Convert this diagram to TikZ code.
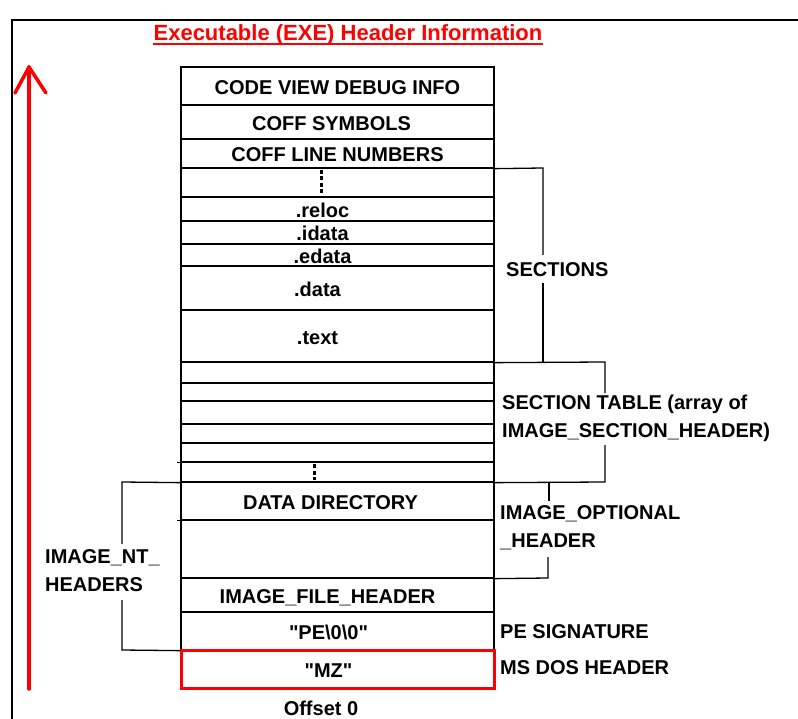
\documentclass[tikz,border=0pt]{standalone}
\usepackage{fontspec}
\setmainfont{Liberation Sans}
\newcommand\lblfont{\fontsize{20}{28}\selectfont\bfseries}
\newcommand\ttlfont{\fontsize{22}{26}\selectfont\bfseries}
\begin{document}
\begin{tikzpicture}[x=1pt,y=-1pt,
  rowbox/.style={draw, line width=1.3pt, minimum width=313pt, inner sep=0pt, font=\lblfont, text height=17pt, text depth=0pt},
  lbl/.style={font=\lblfont, inner sep=0pt},
  conn/.style={line width=1.3pt},
  dotsty/.style={line width=3pt, dash pattern=on 4pt off 2.5pt},
  frame/.style={line width=2.5pt},
  redarrow/.style={draw=red, line width=3.5pt, line cap=round, line join=round}]
\useasboundingbox (0,0) rectangle (798,719);
% frame
\draw[frame] (12,719) -- (12,20) -- (798,20);
% title
\node[font=\ttlfont, text=red, inner sep=0pt] (title) at (348,35) {Executable (EXE) Header Information};
\draw[red, line width=2pt] ([yshift=-3.5pt]title.base west) -- ([yshift=-3.5pt]title.base east);
% red arrow
\coordinate (abot) at (29,689);
\coordinate (atop) at (29,67);
\draw[redarrow] (abot) -- (atop);
\draw[redarrow] (15,93) -- (atop) -- (46,93);
% rows
\node[rowbox, minimum height=38pt] (cv) at (337.5,86) {CODE VIEW DEBUG INFO};
\node[rowbox, minimum height=34pt] (cs) at (337.5,122) {\hspace*{-12pt}COFF SYMBOLS};
\node[rowbox, minimum height=29pt] (cl) at (337.5,153.5) {COFF LINE NUMBERS};
\node[rowbox, minimum height=29pt] (dA) at (337.5,182.5) {};
\node[rowbox, minimum height=24pt] (reloc) at (337.5,209) {\hspace*{-30pt}.reloc};
\node[rowbox, minimum height=23pt] (idata) at (337.5,232.5) {\hspace*{-30pt}.idata};
\node[rowbox, minimum height=22pt] (edata) at (337.5,255) {\hspace*{-30pt}.edata};
\node[rowbox, minimum height=44pt] (data) at (337.5,288) {\hspace*{-40pt}.data};
\node[rowbox, minimum height=52pt] (text) at (337.5,336) {\hspace*{-40pt}.text};
\node[rowbox, minimum height=21pt] (s1) at (337.5,372.5) {};
\node[rowbox, minimum height=18pt] (s2) at (337.5,392) {};
\node[rowbox, minimum height=23pt] (s3) at (337.5,412.5) {};
\node[rowbox, minimum height=19pt] (s4) at (337.5,433.5) {};
\node[rowbox, minimum height=19pt] (s5) at (337.5,452.5) {};
\node[rowbox, minimum height=20pt] (dB) at (337.5,472) {};
\node[rowbox, minimum height=38pt] (dd) at (337.5,501) {\hspace*{-14pt}DATA DIRECTORY};
\node[rowbox, minimum height=58pt] (opt) at (337.5,549) {};
\node[rowbox, minimum height=34pt] (fh) at (337.5,595) {\hspace*{-20pt}IMAGE\_FILE\_HEADER};
\node[rowbox, minimum height=38pt] (pe) at (337.5,631) {\hspace*{-18pt}\textquotedbl PE\textbackslash 0\textbackslash 0\textquotedbl};
\node[rowbox, draw=red, line width=3pt, minimum height=38pt] (mz) at (337.5,669) {\hspace*{-18pt}\textquotedbl MZ\textquotedbl};
% dots
\draw[dotsty] (321,170) -- (321,196);
\draw[dotsty] (314,464) -- (314,480);
% small overshoots
\draw[conn] (s5.south west) -- ++(-3,0);
\draw[conn] (dd.south west) -- ++(-3,0);
% labels
\node[lbl, anchor=west] (secl) at (506,270) {SECTIONS};
\node[lbl, anchor=west, align=left] (stl) at (502,418.5) {SECTION TABLE (array of\\IMAGE\_SECTION\_HEADER)};
\node[lbl, anchor=west, align=left] (optl) at (500,527.5) {IMAGE\_OPTIONAL\\\_HEADER};
\node[lbl, anchor=west, align=left] (ntl) at (45,571) {IMAGE\_NT\_\\HEADERS};
\node[lbl, anchor=west] (pel) at (500,632) {PE SIGNATURE};
\node[lbl, anchor=west] (mzl) at (500,668) {MS DOS HEADER};
\node[lbl] (off) at (321,708) {Offset 0};
% brackets
\draw[conn] (cl.south east) -- (543,168) -- (543,255);
\draw[conn] (543,283) -- (543,362);
\draw[conn] (text.south east) -- (605,362) -- (605,393);
\draw[conn] (605,445) -- (605,482) -- (dB.south east);
\draw[conn] (549,482) -- (549,501);
\draw[conn] (548,557) -- (548,578) -- (opt.south east);
\draw[conn] (dB.south west) -- (122,482) -- (122,544);
\draw[conn] (122,600) -- (122,650) -- (pe.south west);
\end{tikzpicture}
\end{document}
